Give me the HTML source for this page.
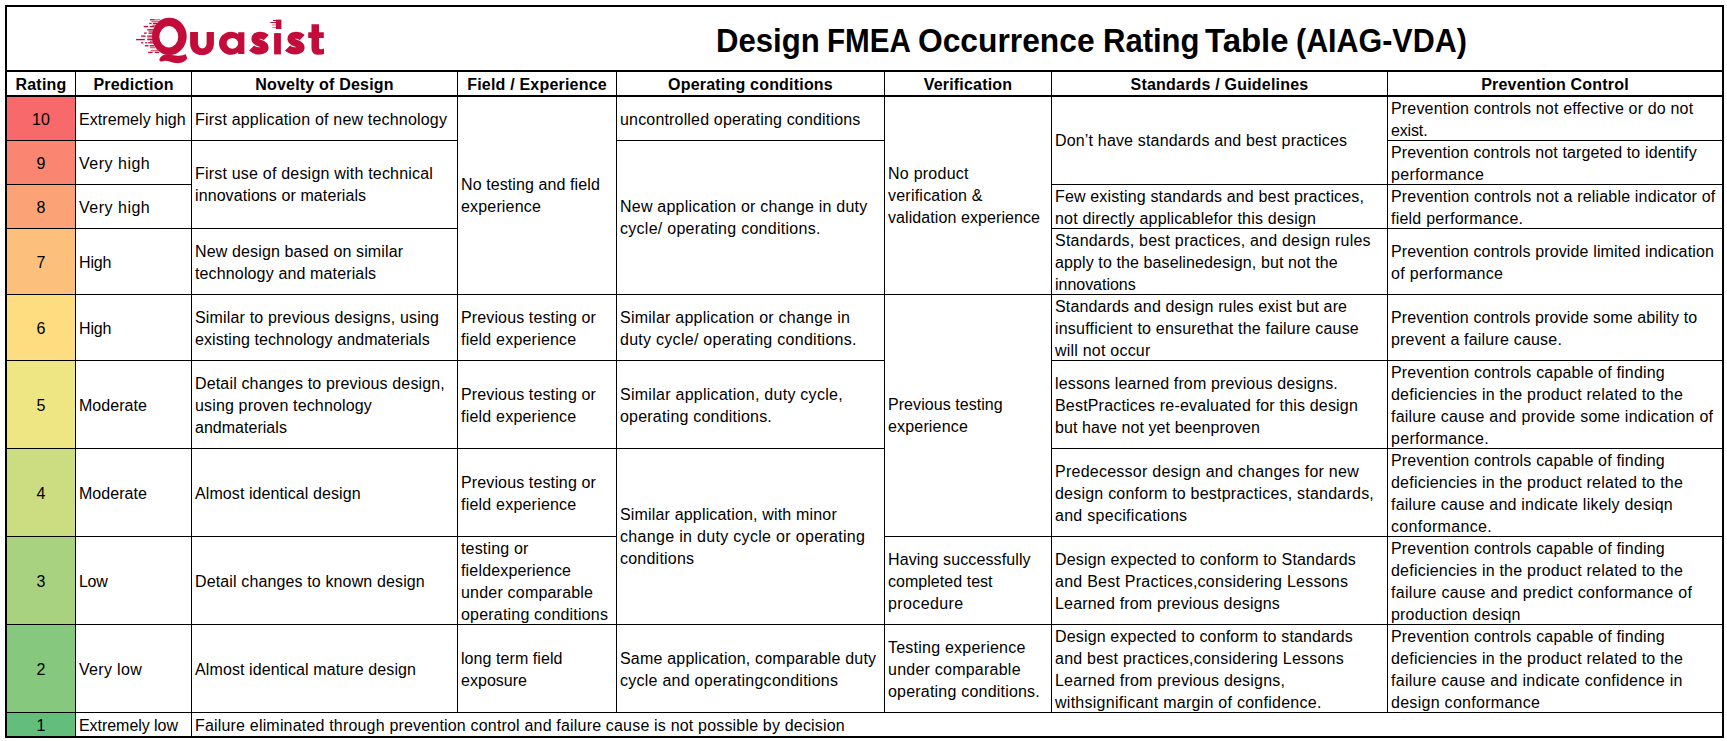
<!DOCTYPE html>
<html><head><meta charset="utf-8"><title>Design FMEA Occurrence Rating Table (AIAG-VDA)</title>
<style>
html,body{margin:0;padding:0;background:#fff;}
body{width:1727px;height:741px;position:relative;overflow:hidden;font-family:"Liberation Sans",sans-serif;color:#000;}
.l{position:absolute;background:#000;}
.c{position:absolute;display:flex;align-items:center;box-sizing:border-box;padding-left:3px;font-size:16px;line-height:22px;white-space:nowrap;letter-spacing:0.17px;}
.r{justify-content:center;padding-left:0;}
.h{position:absolute;display:flex;align-items:center;justify-content:center;font-weight:bold;font-size:16px;line-height:22px;white-space:nowrap;letter-spacing:0.2px;}
#title{position:absolute;left:0;top:20.1px;height:40px;line-height:40px;font-weight:bold;font-size:34px;white-space:nowrap;}
#title span{position:absolute;top:0;transform-origin:0 0;}
</style></head><body>

<div style="position:absolute;left:7px;top:97px;width:68px;height:44px;background:#F8696B"></div>
<div style="position:absolute;left:7px;top:141px;width:68px;height:44px;background:#FA8671"></div>
<div style="position:absolute;left:7px;top:185px;width:68px;height:44px;background:#FBA376"></div>
<div style="position:absolute;left:7px;top:229px;width:68px;height:66px;background:#FDC07C"></div>
<div style="position:absolute;left:7px;top:295px;width:68px;height:66px;background:#FEDD81"></div>
<div style="position:absolute;left:7px;top:361px;width:68px;height:88px;background:#EEE683"></div>
<div style="position:absolute;left:7px;top:449px;width:68px;height:88px;background:#CBDC81"></div>
<div style="position:absolute;left:7px;top:537px;width:68px;height:88px;background:#A8D27F"></div>
<div style="position:absolute;left:7px;top:625px;width:68px;height:88px;background:#86C87D"></div>
<div style="position:absolute;left:7px;top:713px;width:68px;height:24px;background:#63BE7B"></div>
<div style="position:absolute;left:5px;top:5px;width:1715px;height:729px;border:2px solid #000;"></div>
<div class="l" style="left:5px;top:70px;width:1719px;height:2px"></div>
<div class="l" style="left:5px;top:95px;width:1719px;height:2px"></div>
<div class="l" style="left:75px;top:72px;width:1px;height:664px"></div>
<div class="l" style="left:191px;top:72px;width:1px;height:664px"></div>
<div class="l" style="left:457px;top:72px;width:1px;height:640px"></div>
<div class="l" style="left:616px;top:72px;width:1px;height:640px"></div>
<div class="l" style="left:884px;top:72px;width:1px;height:640px"></div>
<div class="l" style="left:1051px;top:72px;width:1px;height:640px"></div>
<div class="l" style="left:1387px;top:72px;width:1px;height:640px"></div>
<div class="l" style="left:7px;top:140px;width:450px;height:1px"></div>
<div class="l" style="left:616px;top:140px;width:268px;height:1px"></div>
<div class="l" style="left:1387px;top:140px;width:335px;height:1px"></div>
<div class="l" style="left:7px;top:184px;width:184px;height:1px"></div>
<div class="l" style="left:1051px;top:184px;width:671px;height:1px"></div>
<div class="l" style="left:7px;top:228px;width:450px;height:1px"></div>
<div class="l" style="left:1051px;top:228px;width:671px;height:1px"></div>
<div class="l" style="left:7px;top:294px;width:1715px;height:1px"></div>
<div class="l" style="left:7px;top:360px;width:877px;height:1px"></div>
<div class="l" style="left:1051px;top:360px;width:671px;height:1px"></div>
<div class="l" style="left:7px;top:448px;width:877px;height:1px"></div>
<div class="l" style="left:1051px;top:448px;width:671px;height:1px"></div>
<div class="l" style="left:7px;top:536px;width:609px;height:1px"></div>
<div class="l" style="left:884px;top:536px;width:838px;height:1px"></div>
<div class="l" style="left:7px;top:624px;width:1715px;height:1px"></div>
<div class="l" style="left:7px;top:712px;width:1715px;height:1px"></div>
<div class="h" style="left:7px;top:73.5px;width:68px;height:23px">Rating</div>
<div class="h" style="left:76px;top:73.5px;width:115px;height:23px">Prediction</div>
<div class="h" style="left:192px;top:73.5px;width:265px;height:23px">Novelty of Design</div>
<div class="h" style="left:458px;top:73.5px;width:158px;height:23px">Field / Experience</div>
<div class="h" style="left:617px;top:73.5px;width:267px;height:23px">Operating conditions</div>
<div class="h" style="left:885px;top:73.5px;width:166px;height:23px">Verification</div>
<div class="h" style="left:1052px;top:73.5px;width:335px;height:23px">Standards / Guidelines</div>
<div class="h" style="left:1388px;top:73.5px;width:334px;height:23px">Prevention Control</div>
<div class="c r" style="left:7px;top:98px;width:68px;height:44px"><div>10</div></div>
<div class="c r" style="left:7px;top:142px;width:68px;height:44px"><div>9</div></div>
<div class="c r" style="left:7px;top:186px;width:68px;height:44px"><div>8</div></div>
<div class="c r" style="left:7px;top:230px;width:68px;height:66px"><div>7</div></div>
<div class="c r" style="left:7px;top:296px;width:68px;height:66px"><div>6</div></div>
<div class="c r" style="left:7px;top:362px;width:68px;height:88px"><div>5</div></div>
<div class="c r" style="left:7px;top:450px;width:68px;height:88px"><div>4</div></div>
<div class="c r" style="left:7px;top:538px;width:68px;height:88px"><div>3</div></div>
<div class="c r" style="left:7px;top:626px;width:68px;height:88px"><div>2</div></div>
<div class="c r" style="left:7px;top:714px;width:68px;height:24px"><div>1</div></div>
<div class="c" style="left:76px;top:98px;width:115px;height:44px"><div><span style="letter-spacing:0.070px">Extremely high</span></div></div>
<div class="c" style="left:76px;top:142px;width:115px;height:44px"><div><span style="letter-spacing:0.507px">Very high</span></div></div>
<div class="c" style="left:76px;top:186px;width:115px;height:44px"><div><span style="letter-spacing:0.507px">Very high</span></div></div>
<div class="c" style="left:76px;top:230px;width:115px;height:66px"><div><span style="letter-spacing:-0.130px">High</span></div></div>
<div class="c" style="left:76px;top:296px;width:115px;height:66px"><div><span style="letter-spacing:-0.130px">High</span></div></div>
<div class="c" style="left:76px;top:362px;width:115px;height:88px"><div><span style="letter-spacing:0.041px">Moderate</span></div></div>
<div class="c" style="left:76px;top:450px;width:115px;height:88px"><div><span style="letter-spacing:0.041px">Moderate</span></div></div>
<div class="c" style="left:76px;top:538px;width:115px;height:88px"><div><span style="letter-spacing:-0.280px">Low</span></div></div>
<div class="c" style="left:76px;top:626px;width:115px;height:88px"><div><span style="letter-spacing:0.327px">Very low</span></div></div>
<div class="c" style="left:76px;top:714px;width:115px;height:24px"><div><span style="letter-spacing:-0.047px">Extremely low</span></div></div>
<div class="c" style="left:192px;top:98px;width:265px;height:44px"><div><span style="letter-spacing:0.191px">First application of new technology</span></div></div>
<div class="c" style="left:192px;top:141px;width:265px;height:88px"><div><span style="letter-spacing:0.203px">First use of design with technical</span><br><span style="letter-spacing:0.092px">innovations or materials</span></div></div>
<div class="c" style="left:192px;top:230px;width:265px;height:66px"><div><span style="letter-spacing:0.135px">New design based on similar</span><br><span style="letter-spacing:0.140px">technology and materials</span></div></div>
<div class="c" style="left:192px;top:296px;width:265px;height:66px"><div><span style="letter-spacing:0.170px">Similar to previous designs, using</span><br><span style="letter-spacing:0.083px">existing technology andmaterials</span></div></div>
<div class="c" style="left:192px;top:362px;width:265px;height:88px"><div><span style="letter-spacing:0.158px">Detail changes to previous design,</span><br><span style="letter-spacing:0.152px">using proven technology</span><br><span style="letter-spacing:0.025px">andmaterials</span></div></div>
<div class="c" style="left:192px;top:450px;width:265px;height:88px"><div><span style="letter-spacing:0.088px">Almost identical design</span></div></div>
<div class="c" style="left:192px;top:538px;width:265px;height:88px"><div><span style="letter-spacing:0.132px">Detail changes to known design</span></div></div>
<div class="c" style="left:192px;top:626px;width:265px;height:88px"><div><span style="letter-spacing:0.108px">Almost identical mature design</span></div></div>
<div class="c" style="left:192px;top:714px;width:1530px;height:24px"><div><span style="letter-spacing:0.183px">Failure eliminated through prevention control and failure cause is not possible by decision</span></div></div>
<div class="c" style="left:458px;top:97px;width:158px;height:198px"><div><span style="letter-spacing:0.096px">No testing and field</span><br><span style="letter-spacing:0.170px">experience</span></div></div>
<div class="c" style="left:458px;top:296px;width:158px;height:66px"><div><span style="letter-spacing:0.131px">Previous testing or</span><br><span style="letter-spacing:0.210px">field experience</span></div></div>
<div class="c" style="left:458px;top:362px;width:158px;height:88px"><div><span style="letter-spacing:0.131px">Previous testing or</span><br><span style="letter-spacing:0.210px">field experience</span></div></div>
<div class="c" style="left:458px;top:450px;width:158px;height:88px"><div><span style="letter-spacing:0.131px">Previous testing or</span><br><span style="letter-spacing:0.210px">field experience</span></div></div>
<div class="c" style="left:458px;top:538px;width:158px;height:88px"><div><span style="letter-spacing:0.170px">testing or</span><br><span style="letter-spacing:0.170px">fieldexperience</span><br><span style="letter-spacing:0.203px">under comparable</span><br><span style="letter-spacing:0.196px">operating conditions</span></div></div>
<div class="c" style="left:458px;top:626px;width:158px;height:88px"><div><span style="letter-spacing:0.070px">long term field</span><br><span style="letter-spacing:0.027px">exposure</span></div></div>
<div class="c" style="left:617px;top:98px;width:267px;height:44px"><div><span style="letter-spacing:0.170px">uncontrolled operating conditions</span></div></div>
<div class="c" style="left:617px;top:141px;width:267px;height:154px"><div><span style="letter-spacing:0.223px">New application or change in duty</span><br><span style="letter-spacing:0.274px">cycle/ operating conditions.</span></div></div>
<div class="c" style="left:617px;top:296px;width:267px;height:66px"><div><span style="letter-spacing:0.244px">Similar application or change in</span><br><span style="letter-spacing:0.276px">duty cycle/ operating conditions.</span></div></div>
<div class="c" style="left:617px;top:362px;width:267px;height:88px"><div><span style="letter-spacing:0.267px">Similar application, duty cycle,</span><br><span style="letter-spacing:0.208px">operating conditions.</span></div></div>
<div class="c" style="left:617px;top:449px;width:267px;height:176px"><div><span style="letter-spacing:0.170px">Similar application, with minor</span><br><span style="letter-spacing:0.318px">change in duty cycle or operating</span><br><span style="letter-spacing:0.226px">conditions</span></div></div>
<div class="c" style="left:617px;top:626px;width:267px;height:88px"><div><span style="letter-spacing:0.192px">Same application, comparable duty</span><br><span style="letter-spacing:0.256px">cycle and operatingconditions</span></div></div>
<div class="c" style="left:885px;top:97px;width:166px;height:198px"><div><span style="letter-spacing:0.248px">No product</span><br><span style="letter-spacing:0.224px">verification &amp;</span><br><span style="letter-spacing:0.085px">validation experience</span></div></div>
<div class="c" style="left:885px;top:295px;width:166px;height:242px"><div><span style="letter-spacing:0.057px">Previous testing</span><br><span style="letter-spacing:0.170px">experience</span></div></div>
<div class="c" style="left:885px;top:538px;width:166px;height:88px"><div><span style="letter-spacing:0.114px">Having successfully</span><br><span style="letter-spacing:0.039px">completed test</span><br><span style="letter-spacing:0.383px">procedure</span></div></div>
<div class="c" style="left:885px;top:626px;width:166px;height:88px"><div><span style="letter-spacing:0.229px">Testing experience</span><br><span style="letter-spacing:0.237px">under comparable</span><br><span style="letter-spacing:0.205px">operating conditions.</span></div></div>
<div class="c" style="left:1052px;top:97px;width:335px;height:88px"><div><span style="letter-spacing:0.170px">Don&rsquo;t have standards and best practices</span></div></div>
<div class="c" style="left:1052px;top:186px;width:335px;height:44px"><div><span style="letter-spacing:0.160px">Few existing standards and best practices,</span><br><span style="letter-spacing:0.202px">not directly applicablefor this design</span></div></div>
<div class="c" style="left:1052px;top:230px;width:335px;height:66px"><div><span style="letter-spacing:0.206px">Standards, best practices, and design rules</span><br><span style="letter-spacing:0.108px">apply to the baselinedesign, but not the</span><br><span style="letter-spacing:-0.030px">innovations</span></div></div>
<div class="c" style="left:1052px;top:296px;width:335px;height:66px"><div><span style="letter-spacing:0.144px">Standards and design rules exist but are</span><br><span style="letter-spacing:0.203px">insufficient to ensurethat the failure cause</span><br><span style="letter-spacing:0.216px">will not occur</span></div></div>
<div class="c" style="left:1052px;top:362px;width:335px;height:88px"><div><span style="letter-spacing:0.143px">lessons learned from previous designs.</span><br><span style="letter-spacing:0.185px">BestPractices re-evaluated for this design</span><br><span style="letter-spacing:0.078px">but have not yet beenproven</span></div></div>
<div class="c" style="left:1052px;top:450px;width:335px;height:88px"><div><span style="letter-spacing:0.251px">Predecessor design and changes for new</span><br><span style="letter-spacing:0.222px">design conform to bestpractices, standards,</span><br><span style="letter-spacing:0.288px">and specifications</span></div></div>
<div class="c" style="left:1052px;top:538px;width:335px;height:88px"><div><span style="letter-spacing:0.170px">Design expected to conform to Standards</span><br><span style="letter-spacing:0.251px">and Best Practices,considering Lessons</span><br><span style="letter-spacing:0.184px">Learned from previous designs</span></div></div>
<div class="c" style="left:1052px;top:626px;width:335px;height:88px"><div><span style="letter-spacing:0.159px">Design expected to conform to standards</span><br><span style="letter-spacing:0.232px">and best practices,considering Lessons</span><br><span style="letter-spacing:0.198px">Learned from previous designs,</span><br><span style="letter-spacing:0.259px">withsignificant margin of confidence.</span></div></div>
<div class="c" style="left:1388px;top:98px;width:334px;height:44px"><div><span style="letter-spacing:0.170px">Prevention controls not effective or do not</span><br><span style="letter-spacing:-0.150px">exist.</span></div></div>
<div class="c" style="left:1388px;top:142px;width:334px;height:44px"><div><span style="letter-spacing:0.137px">Prevention controls not targeted to identify</span><br><span style="letter-spacing:0.310px">performance</span></div></div>
<div class="c" style="left:1388px;top:186px;width:334px;height:44px"><div><span style="letter-spacing:0.183px">Prevention controls not a reliable indicator of</span><br><span style="letter-spacing:0.229px">field performance.</span></div></div>
<div class="c" style="left:1388px;top:230px;width:334px;height:66px"><div><span style="letter-spacing:0.139px">Prevention controls provide limited indication</span><br><span style="letter-spacing:0.339px">of performance</span></div></div>
<div class="c" style="left:1388px;top:296px;width:334px;height:66px"><div><span style="letter-spacing:0.132px">Prevention controls provide some ability to</span><br><span style="letter-spacing:0.196px">prevent a failure cause.</span></div></div>
<div class="c" style="left:1388px;top:362px;width:334px;height:88px"><div><span style="letter-spacing:0.186px">Prevention controls capable of finding</span><br><span style="letter-spacing:0.219px">deficiencies in the product related to the</span><br><span style="letter-spacing:0.228px">failure cause and provide some indication of</span><br><span style="letter-spacing:0.306px">performance.</span></div></div>
<div class="c" style="left:1388px;top:450px;width:334px;height:88px"><div><span style="letter-spacing:0.186px">Prevention controls capable of finding</span><br><span style="letter-spacing:0.219px">deficiencies in the product related to the</span><br><span style="letter-spacing:0.221px">failure cause and indicate likely desiqn</span><br><span style="letter-spacing:0.352px">conformance.</span></div></div>
<div class="c" style="left:1388px;top:538px;width:334px;height:88px"><div><span style="letter-spacing:0.186px">Prevention controls capable of finding</span><br><span style="letter-spacing:0.219px">deficiencies in the product related to the</span><br><span style="letter-spacing:0.303px">failure cause and predict conformance of</span><br><span style="letter-spacing:0.195px">production desiqn</span></div></div>
<div class="c" style="left:1388px;top:626px;width:334px;height:88px"><div><span style="letter-spacing:0.186px">Prevention controls capable of finding</span><br><span style="letter-spacing:0.219px">deficiencies in the product related to the</span><br><span style="letter-spacing:0.288px">failure cause and indicate confidence in</span><br><span style="letter-spacing:0.288px">design conformance</span></div></div>
<div id="title"><span style="left:715.67px;transform:scaleX(0.9147)">Design</span><span style="left:827.16px;transform:scaleX(0.871)">FMEA</span><span style="left:917.57px;transform:scaleX(0.9342)">Occurrence</span><span style="left:1102.97px;transform:scaleX(0.9127)">Rating</span><span style="left:1205.05px;transform:scaleX(0.9688)">Table</span><span style="left:1295.71px;transform:scaleX(0.8952)">(AIAG-VDA)</span></div>
<svg id="logo" style="position:absolute;left:130px;top:10px" width="200" height="60" viewBox="130 10 200 60">
<g fill="#C40C3A">
<path fill-rule="evenodd" d="M169.35 17.7a17.35 18.7 0 1 0 0 37.4a17.35 18.7 0 1 0 0-37.4zM168.8 26a9.45 10.7 0 1 1 0 21.4a9.45 10.7 0 1 1 0-21.4z"/>
<path d="M159.4 59C160.6 56.4 163.2 54.8 166.5 54.3L175.4 55.4C180.2 56.2 183.5 55.4 185.7 54L187.2 58.2C185.9 61.6 180.4 63.8 175.4 63C170.5 62.2 166.8 59.6 162.6 61.3C160.8 62.1 159 61 159.4 59Z"/>
<path d="M190.1 32h7.85v11.6a4.33 4.8 0 0 0 8.66 0v-11.6h7.3v11.4c0 7-4.9 11.65-11.9 11.65s-11.9-4.65-11.9-11.65z"/>
<path fill-rule="evenodd" d="M231.2 31.7a12.2 11.55 0 1 0 0 23.1c2.9 0 5.4-0.9 7-2.5v1.6h6.2v-21.65h-6.2v1.9c-1.6-1.5-4.1-2.45-7-2.45zM232.4 37.9a5.8 5.4 0 1 1 0 10.8a5.8 5.4 0 1 1 0-10.8z"/>
<rect x="274.1" y="33.1" width="6.8" height="21.3"/>
<rect x="275.9" y="19.6" width="5.5" height="9.4"/>
<path d="M311.5 24.2h7.5v8h4.8v5.7h-4.8v9.5c0 1.6 1.2 2 2.4 1.8l2.6-0.7v5.5c-1.5 0.5-3.3 0.8-5.1 0.8c-4.8 0-7.4-2.4-7.4-6.9v-10h-3.3v-5.7h3.3z"/>
</g>
<g fill="none" stroke="#C40C3A" stroke-width="7.2">
<path d="M266.2 37.6C264.8 36.2,262.4 35.26,259.8 35.26C256.6 35.26,255.0 36.9,255.0 38.9C255.0 43.8,265.0 42.6,265.0 47.4C265.0 49.7,262.6 50.9,259.4 50.9C256.4 50.9,253.6 50,251.6 48"/>
<path d="M302.2 37.6C300.8 36.2,298.4 35.26,295.8 35.26C292.6 35.26,291.0 36.9,291.0 38.9C291.0 43.8,301.0 42.6,301.0 47.4C301.0 49.7,298.6 50.9,295.4 50.9C292.4 50.9,289.6 50,287.6 48"/>
</g>
<g fill="#C40C3A">
<rect x="150.03" y="19.11" width="4.45" height="1.35"/>
<rect x="149.29" y="22.82" width="2.37" height="1.35"/>
<rect x="153.0" y="22.82" width="4.08" height="1.35"/>
<rect x="143.72" y="25.93" width="4.45" height="1.35"/>
<rect x="149.66" y="25.93" width="4.82" height="1.35"/>
<rect x="147.21" y="29.12" width="7.27" height="1.35"/>
<rect x="144.09" y="32.47" width="2.6" height="1.35"/>
<rect x="148.55" y="32.47" width="5.93" height="1.35"/>
<rect x="141.13" y="35.44" width="4.45" height="1.35"/>
<rect x="147.21" y="35.44" width="7.27" height="1.35"/>
<rect x="136.08" y="38.93" width="8.75" height="1.35"/>
<rect x="147.21" y="38.93" width="7.27" height="1.35"/>
<rect x="141.13" y="42.12" width="2.23" height="1.35"/>
<rect x="145.21" y="42.12" width="1.85" height="1.35"/>
<rect x="148.18" y="42.12" width="6.31" height="1.35"/>
<rect x="144.84" y="45.08" width="3.71" height="1.35"/>
<rect x="149.66" y="45.08" width="4.82" height="1.35"/>
<rect x="148.18" y="51.76" width="4.45" height="1.35"/>
<rect x="154.85" y="51.76" width="4.08" height="1.35"/>
<rect x="270.2" y="22" width="5.8" height="1"/><rect x="273" y="20" width="3" height="1"/>
</g>
<g fill="#C40C3A" opacity="0.62">
<rect x="154.48" y="19.11" width="5.93" height="1.35"/>
<rect x="151.51" y="20.96" width="7.42" height="1.35"/>
<rect x="152.26" y="24.68" width="4.45" height="1.35"/>
<rect x="148.55" y="30.77" width="5.93" height="1.35"/>
<rect x="147.43" y="37.29" width="7.05" height="1.35"/>
<rect x="150.03" y="40.62" width="4.45" height="1.35"/>
<rect x="150.03" y="46.94" width="5.19" height="1.35"/>
<rect x="150.77" y="49.91" width="7.79" height="1.35"/>
<rect x="272" y="24.5" width="4" height="1"/><rect x="272.5" y="27" width="4" height="1"/>
</g>
</svg>

</body></html>
